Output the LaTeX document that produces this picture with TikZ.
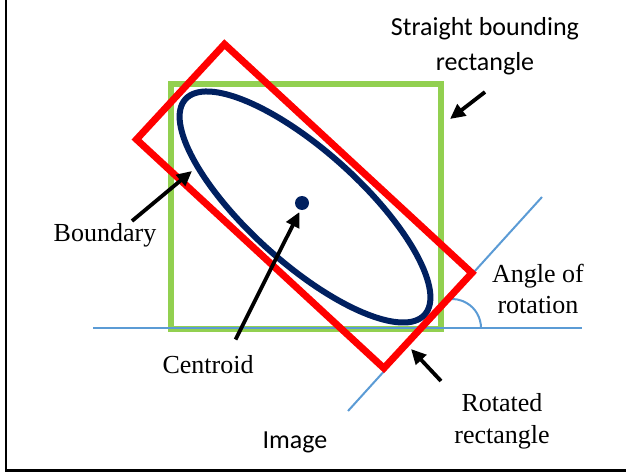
\documentclass[tikz,border=0pt]{standalone}
\usepackage{fontspec}
\setmainfont{Liberation Serif}
\newfontfamily\calfont{Carlito}
\usetikzlibrary{arrows.meta}

\definecolor{sqgreen}{RGB}{146,208,80}
\definecolor{ovalnavy}{RGB}{0,32,96}
\definecolor{axisblue}{RGB}{91,155,213}

\begin{document}
\begin{tikzpicture}[x=1pt,y=-1pt,
  pointer/.style={line width=3.8pt,-{Triangle[length=15pt,width=14pt]}},
  lbl/.style={font=\fontsize{26}{31}\selectfont,align=center,inner sep=0pt}]
\useasboundingbox (0,0) rectangle (626,473);
\draw[line width=2.4pt] (6,0) -- (6,470.5) -- (626,470.5);
% straight bounding box and the two axes
\draw[sqgreen,line width=6pt] (171,84) rectangle (441,329);
\draw[axisblue,line width=2pt] (93,328) -- (582,328);
\draw[axisblue,line width=2pt] (348,411) -- (542,197);
\draw[axisblue,line width=2pt] (452,328) ++(0:29) arc[start angle=0,end angle=-98,radius=29];
% the object and its rotated box
\coordinate (c) at (305,207);
\draw[ovalnavy,line width=6pt,rotate around={-42:(c)}] (c) ellipse [x radius=161,y radius=56];
\draw[red,line width=7pt] (224.5,44.2) -- (471.9,273.0) -- (383.9,368.2) -- (136.5,139.4) -- cycle;
\fill[ovalnavy] (302,203) circle (7);
% labels
\node[lbl,font=\calfont\fontsize{26}{35.5}\selectfont] (straight) at (485,46) {Straight bounding\\rectangle};
\node[lbl] (boundary) at (105,235) {Boundary};
\node[lbl] (centroid) at (208,365) {Centroid};
\node[lbl] (angle) at (538,289) {Angle of\\rotation};
\node[lbl,font=\fontsize{26}{32}\selectfont] (rotated) at (502,421) {Rotated\\rectangle};
\node[lbl,font=\calfont\fontsize{26}{31}\selectfont] (image) at (295,442) {Image};
% arrows
\coordinate (straighttail) at (485,92);
\coordinate (straighttip) at (450,119);
\coordinate (boundarytail) at (132,221);
\coordinate (boundarytip) at (192,171);
\coordinate (centroidtail) at (235.5,339.5);
\coordinate (centroidtip) at (299.4,212);
\coordinate (rotatedtail) at (441,381);
\coordinate (rotatedtip) at (411,349);
\draw[pointer] (straighttail) -- (straighttip);
\draw[pointer] (boundarytail) -- (boundarytip);
\draw[pointer] (centroidtail) -- (centroidtip);
\draw[pointer] (rotatedtail) -- (rotatedtip);
\end{tikzpicture}
\end{document}
